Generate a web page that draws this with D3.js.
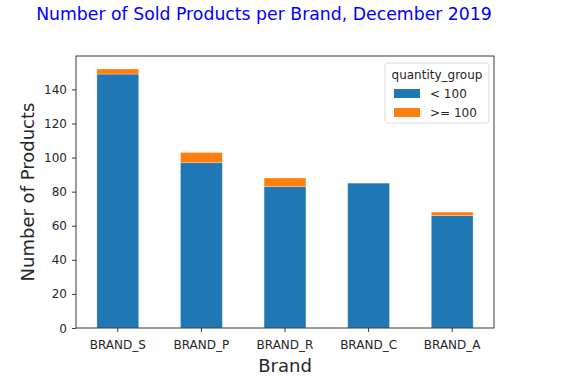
<!DOCTYPE html>
<html>
<head>
<meta charset="utf-8">
<script src="https://cdn.jsdelivr.net/npm/d3@7"></script>
<style>
  body { margin: 0; background: #fff; }
  svg { font-family: "DejaVu Sans", sans-serif; }
</style>
</head>
<body>
<svg id="chart" width="562" height="384"></svg>
<script>
// Stacked bar chart: sold products per brand, split by quantity group
const brands = ["BRAND_S", "BRAND_P", "BRAND_R", "BRAND_C", "BRAND_A"];
const under100 = [149, 97, 83, 85, 66];
const over100 = [3, 6, 5, 0, 2];
const groups = ["< 100", ">= 100"];
const colors = ["#1f77b4", "#ff7f0e"];
const yTicks = [0, 20, 40, 60, 80, 100, 120, 140];

const svg = d3.select("#chart");
const margin = { top: 56, right: 68, bottom: 56, left: 76 };
const width = 562, height = 384;
const innerWidth = width - margin.left - margin.right;
const innerHeight = height - margin.top - margin.bottom;

const rows = brands.map((b, i) => ({ brand: b, "< 100": under100[i], ">= 100": over100[i] }));
const stacked = d3.stack().keys(groups)(rows);

const x = d3.scaleBand().domain(brands).range([0, innerWidth])
  .paddingInner(0.5).paddingOuter(0.25);
const yMax = d3.max(rows, (d) => d["< 100"] + d[">= 100"]) * 1.05;
const y = d3.scaleLinear().domain([0, yMax]).range([innerHeight, 0]);

const g = svg.append("g").attr("transform", `translate(${margin.left},${margin.top})`);

// bars
g.append("g")
  .selectAll("g")
  .data(stacked)
  .join("g")
  .attr("fill", (d, i) => colors[i])
  .selectAll("rect")
  .data((d) => d.filter((s) => s[1] - s[0] > 0))
  .join("rect")
  .attr("x", (d) => x(d.data.brand))
  .attr("y", (d) => y(d[1]))
  .attr("width", x.bandwidth())
  .attr("height", (d) => y(d[0]) - y(d[1]))
  .attr("stroke", "#ffffff")
  .attr("stroke-opacity", 0.35)
  .attr("stroke-width", 0.8);

// axes (tick lines from d3, labels placed as plain text)
const xAxis = g.append("g")
  .attr("transform", `translate(0,${innerHeight})`)
  .call(d3.axisBottom(x).tickSizeOuter(0).tickSize(4).tickFormat(""));
const yAxis = g.append("g")
  .call(d3.axisLeft(y).tickValues(yTicks).tickSizeOuter(0).tickSize(4).tickFormat(""));

[xAxis, yAxis].forEach((ax) => {
  ax.select(".domain").remove();
  ax.selectAll("line").attr("stroke", "#262626").attr("stroke-width", 0.9);
});

g.append("g")
  .selectAll("text")
  .data(brands)
  .join("text")
  .attr("x", (d) => x(d) + x.bandwidth() / 2)
  .attr("y", innerHeight + 21)
  .attr("text-anchor", "middle")
  .attr("font-size", 12)
  .attr("fill", "#262626")
  .text((d) => d);

g.append("g")
  .selectAll("text")
  .data(yTicks)
  .join("text")
  .attr("x", -9)
  .attr("y", (d) => y(d) + 4.5)
  .attr("text-anchor", "end")
  .attr("font-size", 12)
  .attr("fill", "#262626")
  .text((d) => d);

// frame
g.append("rect")
  .attr("width", innerWidth)
  .attr("height", innerHeight)
  .attr("fill", "none")
  .attr("stroke", "#262626")
  .attr("stroke-width", 0.9);

// title and labels
svg.append("text")
  .attr("x", 264)
  .attr("y", 20)
  .attr("text-anchor", "middle")
  .attr("font-size", 17.3)
  .attr("fill", "#0000ff")
  .text("Number of Sold Products per Brand, December 2019");

svg.append("text")
  .attr("x", margin.left + innerWidth / 2)
  .attr("y", 372)
  .attr("text-anchor", "middle")
  .attr("font-size", 18)
  .attr("fill", "#262626")
  .text("Brand");

svg.append("text")
  .attr("transform", `translate(34,${margin.top + innerHeight / 2}) rotate(-90)`)
  .attr("text-anchor", "middle")
  .attr("font-size", 18)
  .attr("fill", "#262626")
  .text("Number of Products");

// legend
const legend = svg.append("g").attr("transform", "translate(385,63)");
legend.append("rect")
  .attr("width", 104)
  .attr("height", 60)
  .attr("rx", 3)
  .attr("fill", "#fff")
  .attr("fill-opacity", 0.8)
  .attr("stroke", "#d9d9d9")
  .attr("stroke-width", 0.9);
legend.append("text")
  .attr("x", 52)
  .attr("y", 16)
  .attr("text-anchor", "middle")
  .attr("font-size", 12)
  .attr("fill", "#262626")
  .text("quantity_group");
const items = legend.selectAll("g.item")
  .data(groups)
  .join("g")
  .attr("class", "item")
  .attr("transform", (d, i) => `translate(9,${26 + i * 19})`);
items.append("rect")
  .attr("width", 26)
  .attr("height", 9)
  .attr("fill", (d, i) => colors[i]);
items.append("text")
  .attr("x", 36)
  .attr("y", 9)
  .attr("font-size", 12)
  .attr("fill", "#262626")
  .text((d) => d);
</script>
</body>
</html>
